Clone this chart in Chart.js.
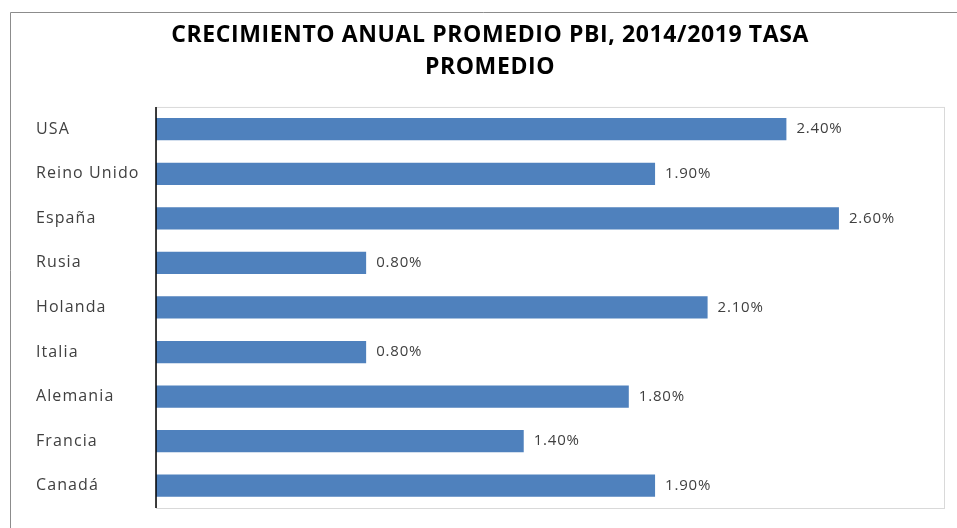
<!DOCTYPE html>
<html>
<head>
<meta charset="utf-8">
<script src="https://cdn.jsdelivr.net/npm/chart.js@4.4.1/dist/chart.umd.min.js"></script>
<style>
  body { margin: 0; background: #fff; }
  #wrap { width: 957px; height: 528px; }
</style>
</head>
<body>
<div id="wrap"><canvas id="gdpChart" width="957" height="528"></canvas></div>
<script>
const countries = ["USA", "Reino Unido", "España", "Rusia", "Holanda", "Italia", "Alemania", "Francia", "Canadá"];
const growth = [2.4, 1.9, 2.6, 0.8, 2.1, 0.8, 1.8, 1.4, 1.9];
const titleLines = ["CRECIMIENTO ANUAL PROMEDIO PBI, 2014/2019 TASA", "PROMEDIO"];

// outer frame, plot box, spacing tweaks, value labels
const framePlugin = {
  id: "frame",
  beforeDraw(c) {
    const ctx = c.ctx;
    ctx.save();
    ctx.strokeStyle = "#8c8c8c";
    ctx.lineWidth = 1;
    ctx.beginPath();
    ctx.moveTo(10.5, 528);
    ctx.lineTo(10.5, 12.5);
    ctx.lineTo(957, 12.5);
    ctx.stroke();
    const a = c.chartArea;
    ctx.strokeStyle = "#d9d9d9";
    ctx.strokeRect(a.left + 0.5, a.top + 0.5, a.right - a.left, a.bottom - a.top);
    ctx.restore();
    ctx.letterSpacing = "0.6px"; // title
  },
  beforeDatasetsDraw(c) {
    c.ctx.letterSpacing = "0px";
  },
  afterDatasetsDraw(c) {
    const ctx = c.ctx;
    const a = c.chartArea;
    ctx.save();
    ctx.strokeStyle = "#000";
    ctx.lineWidth = 1.5;
    ctx.beginPath();
    ctx.moveTo(a.left, a.top);
    ctx.lineTo(a.left, a.bottom);
    ctx.stroke();
    ctx.fillStyle = "#404040";
    ctx.font = "15px 'Open Sans'";
    ctx.letterSpacing = "0.8px";
    ctx.textAlign = "left";
    ctx.textBaseline = "middle";
    c.getDatasetMeta(0).data.forEach((bar, i) => {
      ctx.fillText(growth[i].toFixed(2) + "%", bar.x + 10, bar.y);
    });
    ctx.restore();
    ctx.letterSpacing = "1.1px"; // category ticks drawn next (z: 1)
  },
  afterDraw(c) {
    c.ctx.letterSpacing = "0px";
  }
};

const ctx = document.getElementById("gdpChart").getContext("2d");
const chart = new Chart(ctx, {
  type: "bar",
  data: {
    labels: countries,
    datasets: [{
      data: growth,
      backgroundColor: "#4f81bd",
      barPercentage: 0.5,
      categoryPercentage: 1
    }]
  },
  options: {
    indexAxis: "y",
    responsive: false,
    animation: false,
    layout: { padding: { left: 36, right: 13, top: 19, bottom: 20 } },
    plugins: {
      legend: { display: false },
      tooltip: { enabled: false },
      title: {
        display: true,
        text: titleLines,
        color: "#000",
        font: { family: "'Open Sans'", size: 23, weight: "bold", lineHeight: 1.39 },
        padding: { top: 0, bottom: 24 }
      }
    },
    scales: {
      x: { display: false, min: 0, max: 3 },
      y: {
        grid: { display: false, drawTicks: false },
        border: { display: false },
        ticks: {
          z: 1,
          crossAlign: "far",
          color: "#404040",
          font: { family: "'Open Sans'", size: 16 }
        },
        afterFit(scale) { scale.width = 120; }
      }
    }
  },
  plugins: [framePlugin]
});
</script>
</body>
</html>
